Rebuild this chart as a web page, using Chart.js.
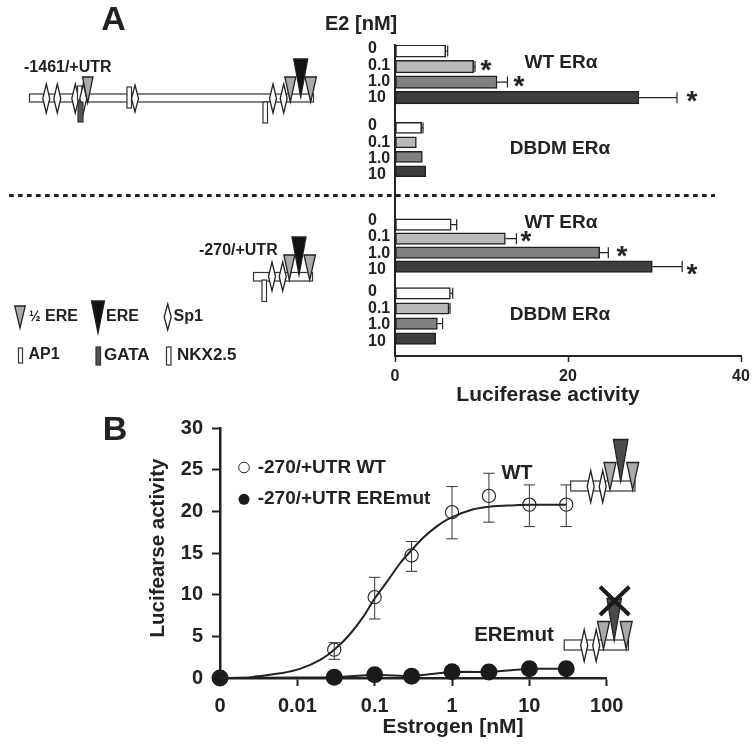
<!DOCTYPE html>
<html>
<head>
<meta charset="utf-8">
<title>Luciferase activity</title>
<script src="https://cdn.jsdelivr.net/npm/chart.js@4"></script>
<style>
    html, body { margin: 0; padding: 0; background: #fff; }
    #wrap { position: relative; width: 755px; height: 746px; overflow: hidden; }
    canvas { position: absolute; left: 0; top: 0; }
</style>
</head>
<body>
<div id="wrap">
    <canvas id="panelA" width="755" height="746"></canvas>
    <canvas id="panelB" width="755" height="746"></canvas>
</div>
<script>
// panel A: bars
const doseLabels = ['0', '0.1', '1.0', '10'];
const wtLong = [5.86, 9.09, 11.8, 28.2];
const wtLongErr = [0.23, 0.16, 1.2, 4.4];
const dbdmLong = [3.08, 2.47, 3.16, 3.55];
const dbdmLongErr = [0.16, 0, 0, 0];
const wtShort = [6.5, 12.76, 23.66, 29.75];
const wtShortErr = [0.63, 1.27, 1.0, 3.45];
const dbdmShort = [6.4, 6.24, 4.9, 4.7];
const dbdmShortErr = [0.27, 0.12, 0.6, 0];
const doseColors = ['#ffffff', '#b9b9b9', '#808080', '#3e3e3e'];

// panel B: dose response
const tickDoses = [0.001, 0.01, 0.1, 1, 10, 100];
const tickDoseLabels = ['0', '0.01', '0.1', '1', '10', '100'];
const doses = [0.001, 0.03, 0.1, 0.3, 1, 3, 10, 30];
const wtMeans = [0, 3.4, 9.7, 14.7, 19.9, 21.85, 20.8, 20.8];
const wtTop = [0, 4.24, 12.08, 16.37, 22.97, 24.57, 23.17, 23.17];
const wtBottom = [0, 2.24, 7.08, 12.8, 16.7, 18.7, 18.17, 18.17];
const mutMeans = [0, 0.1, 0.4, 0.2, 0.76, 0.72, 1.12, 1.12];
const fitDoses = [0.001, 0.002, 0.003, 0.006, 0.0108, 0.02, 0.03, 0.0457, 0.0714, 0.099, 0.143, 0.213, 0.302, 0.427, 0.635, 0.9, 1.89, 3.11, 6.55, 10, 30];
const fitValues = [0, 0.02, 0.2, 0.56, 1.1, 2.2, 3.4, 5.04, 7.36, 9.48, 11.5, 13.77, 15.37, 16.85, 18.2, 19.1, 20.25, 20.57, 20.73, 20.8, 20.8];

const ink = '#222222';
const fontFamily = '"Liberation Sans", Arial, sans-serif';
Chart.defaults.font.family = fontFamily;
Chart.defaults.color = ink;

// row layout of the y axis in panel A, in axis units (0-210)
const barStart = [4.05, 56, 121.3, 167.7];
const barStep = [10.5, 9.75, 9.45, 10.2];
const barThick = [12.5, 11, 11.5, 11.5];
const labelStart = [2.7, 54.5, 118.6, 166.8];
const labelStep = [11, 11.1, 11, 11.15];

function text(ctx, str, x, y, size, align) {
    ctx.font = 'bold ' + size + 'px ' + fontFamily;
    ctx.fillStyle = ink;
    ctx.textAlign = align || 'left';
    ctx.textBaseline = 'middle';
    ctx.fillText(str, x, y);
}

function star(ctx, x, y) {
    ctx.font = 'bold 28px ' + fontFamily;
    ctx.fillStyle = ink;
    ctx.textAlign = 'center';
    ctx.textBaseline = 'alphabetic';
    ctx.fillText('*', x, y + 12);
}

function box(ctx, x1, y1, x2, y2, fill) {
    ctx.fillStyle = fill;
    ctx.strokeStyle = '#333';
    ctx.lineWidth = 1.2;
    ctx.fillRect(x1, y1, x2 - x1, y2 - y1);
    ctx.strokeRect(x1, y1, x2 - x1, y2 - y1);
}

function diamond(ctx, cx, y1, y2, w) {
    let half = (w || 7) / 2;
    ctx.beginPath();
    ctx.moveTo(cx, y1);
    ctx.lineTo(cx + half, (y1 + y2) / 2);
    ctx.lineTo(cx, y2);
    ctx.lineTo(cx - half, (y1 + y2) / 2);
    ctx.closePath();
    ctx.fillStyle = '#fff';
    ctx.strokeStyle = '#222';
    ctx.lineWidth = 1.3;
    ctx.fill();
    ctx.stroke();
}

function tri(ctx, cx, top, tip, w, fill) {
    ctx.beginPath();
    ctx.moveTo(cx - w / 2, top);
    ctx.lineTo(cx + w / 2, top);
    ctx.lineTo(cx, tip);
    ctx.closePath();
    ctx.fillStyle = fill;
    ctx.strokeStyle = '#222';
    ctx.lineWidth = 1.3;
    ctx.fill();
    ctx.stroke();
}

function drawDiagramsA(ctx) {
    // long promoter
    box(ctx, 29.5, 94, 313.5, 102, '#fff');
    [46.3, 57.3, 75.3].forEach(x => diamond(ctx, x, 84, 113));
    box(ctx, 77.5, 86, 82, 100, '#fff');
    diamond(ctx, 83.3, 84, 113);
    box(ctx, 78, 102, 83, 122, '#555');
    tri(ctx, 87.7, 77, 103, 10.5, '#aaa');
    box(ctx, 127, 87, 131.5, 108, '#fff');
    diamond(ctx, 135, 85, 112);
    box(ctx, 263, 102, 267.5, 123, '#fff');
    diamond(ctx, 273, 84, 113);
    diamond(ctx, 283.7, 84, 113);
    tri(ctx, 290.3, 77, 102, 11, '#aaa');
    tri(ctx, 310.7, 77, 102, 11.5, '#aaa');
    tri(ctx, 300.7, 59, 97, 14, '#111');

    // short promoter
    box(ctx, 253.5, 272.5, 312.5, 281, '#fff');
    box(ctx, 262, 280, 266.5, 301.5, '#fff');
    diamond(ctx, 272, 262, 291);
    diamond(ctx, 282.7, 262, 291);
    tri(ctx, 289.3, 255, 280, 11, '#aaa');
    tri(ctx, 309.7, 255, 280, 11.5, '#aaa');
    tri(ctx, 299, 237, 275, 14, '#111');

    // key
    tri(ctx, 20, 306, 328, 10.5, '#aaa');
    tri(ctx, 98, 301, 333, 13, '#111');
    diamond(ctx, 167.7, 304, 330);
    box(ctx, 18.5, 348, 22.5, 363, '#fff');
    box(ctx, 96, 347, 100.5, 365, '#555');
    box(ctx, 166.5, 347, 171, 365, '#fff');
}

function errorsA(chart) {
    let ctx = chart.ctx;
    let errs = [wtLongErr, dbdmLongErr, wtShortErr, dbdmShortErr];
    ctx.save();
    ctx.strokeStyle = ink;
    ctx.lineWidth = 1.2;
    chart.data.datasets.forEach(function (ds, d) {
        chart.getDatasetMeta(d).data.forEach(function (bar, i) {
            if (!errs[d][i]) return;
            let x1 = bar.x;
            let x2 = chart.scales.x.getPixelForValue(ds.data[i].x + errs[d][i]);
            ctx.beginPath();
            ctx.moveTo(x1, bar.y);
            ctx.lineTo(x2, bar.y);
            ctx.moveTo(x2, bar.y - 5.5);
            ctx.lineTo(x2, bar.y + 5.5);
            ctx.stroke();
        });
    });
    ctx.restore();
}

const panelAExtras = {
    id: 'panelAExtras',
    afterDraw(chart) {
        let ctx = chart.ctx;
        ctx.save();
        errorsA(chart);

        text(ctx, 'A', 113.5, 21, 34, 'center');
        text(ctx, 'E2 [nM]', 325, 24, 20);
        text(ctx, '-1461/+UTR', 24, 68, 16);
        text(ctx, '-270/+UTR', 199, 251, 16);
        text(ctx, 'WT ER\u03b1', 561, 63, 19, 'center');
        text(ctx, 'DBDM ER\u03b1', 560, 149, 19, 'center');
        text(ctx, 'WT ER\u03b1', 561, 223, 19, 'center');
        text(ctx, 'DBDM ER\u03b1', 560, 315, 19, 'center');
        text(ctx, 'Luciferase activity', 548, 395, 21, 'center');

        text(ctx, '\u00bd', 29, 317, 14);
        text(ctx, 'ERE', 45, 317, 16);
        text(ctx, 'ERE', 106, 317, 16);
        text(ctx, 'Sp1', 173.5, 317, 16);
        text(ctx, 'AP1', 28.5, 355, 16);
        text(ctx, 'GATA', 104, 355, 17);
        text(ctx, 'NKX2.5', 177, 355, 17);

        star(ctx, 486, 67);
        star(ctx, 519, 83);
        star(ctx, 692, 98);
        star(ctx, 526, 238);
        star(ctx, 622, 253);
        star(ctx, 692, 271);

        // divider between the two constructs
        ctx.strokeStyle = ink;
        ctx.lineWidth = 3;
        ctx.setLineDash([4.7, 4.3]);
        ctx.beginPath();
        ctx.moveTo(9, 195.5);
        ctx.lineTo(715, 195.5);
        ctx.stroke();
        ctx.setLineDash([]);

        drawDiagramsA(ctx);
        ctx.restore();
    }
};

function barDataset(values, g) {
    return {
        data: values.map((v, i) => ({ x: v, y: barStart[g] + i * barStep[g] })),
        backgroundColor: doseColors,
        borderColor: ink,
        borderWidth: 1.5,
        borderSkipped: false,
        barThickness: barThick[g],
        grouped: false
    };
}

let labelSlots = [];
labelStart.forEach(function (s, g) {
    doseLabels.forEach((d, i) => labelSlots.push(s + i * labelStep[g]));
});
let labelTexts = doseLabels.concat(doseLabels, doseLabels, doseLabels);

new Chart(document.getElementById('panelA'), {
    type: 'bar',
    data: {
        datasets: [barDataset(wtLong, 0), barDataset(dbdmLong, 1), barDataset(wtShort, 2), barDataset(dbdmShort, 3)]
    },
    options: {
        responsive: false,
        animation: false,
        indexAxis: 'y',
        layout: { padding: { left: 368, right: 14, top: 45, bottom: 360 } },
        plugins: { legend: { display: false }, tooltip: { enabled: false } },
        scales: {
            x: {
                type: 'linear',
                min: 0,
                max: 40,
                afterBuildTicks(scale) { scale.ticks = [0, 20, 40].map(v => ({ value: v })); },
                afterFit(scale) { scale.height = 30; },
                border: { color: ink, width: 2 },
                grid: { drawOnChartArea: false, tickLength: 6, tickColor: ink, tickWidth: 1.5 },
                ticks: { font: { size: 16, weight: 'bold' }, padding: 5, maxRotation: 0 }
            },
            y: {
                type: 'linear',
                reverse: true,
                min: 0,
                max: 210,
                offset: false,
                afterBuildTicks(scale) { scale.ticks = labelSlots.map(v => ({ value: v })); },
                afterFit(scale) { scale.width = 27; },
                border: { color: ink, width: 2 },
                grid: { display: false },
                ticks: {
                    font: { size: 16, weight: 'bold' },
                    autoSkip: false,
                    crossAlign: 'far',
                    callback: (v, i) => labelTexts[i]
                }
            }
        }
    },
    plugins: [panelAExtras]
});

function drawConstructB(ctx, dx, dy) {
    box(ctx, 570.7 + dx, 481 + dy, 635 + dx, 491 + dy, '#fff');
    diamond(ctx, 590.7 + dx, 470.5 + dy, 502.5 + dy);
    diamond(ctx, 602.7 + dx, 470.5 + dy, 502.5 + dy);
    tri(ctx, 610 + dx, 462.5 + dy, 490 + dy, 12, '#aaa');
    tri(ctx, 632.7 + dx, 462.5 + dy, 490 + dy, 12, '#aaa');
    tri(ctx, 620.7 + dx, 439.5 + dy, 481.5 + dy, 14.5, '#4a4a4a');
}

const panelBExtras = {
    id: 'panelBExtras',
    afterDraw(chart) {
        let ctx = chart.ctx;
        let xs = chart.scales.x;
        let ys = chart.scales.y;
        ctx.save();

        // WT error bars
        ctx.strokeStyle = '#333';
        ctx.lineWidth = 1;
        doses.forEach(function (d, i) {
            if (wtTop[i] === wtBottom[i]) return;
            let x = xs.getPixelForValue(d);
            let t = ys.getPixelForValue(wtTop[i]);
            let b = ys.getPixelForValue(wtBottom[i]);
            ctx.beginPath();
            ctx.moveTo(x, t);
            ctx.lineTo(x, b);
            ctx.moveTo(x - 5.7, t);
            ctx.lineTo(x + 5.7, t);
            ctx.moveTo(x - 5.7, b);
            ctx.lineTo(x + 5.7, b);
            ctx.stroke();
        });

        text(ctx, 'B', 115, 431, 34, 'center');
        text(ctx, 'Estrogen [nM]', 453, 727, 21, 'center');
        text(ctx, '-270/+UTR WT', 257.7, 467.5, 19);
        text(ctx, '-270/+UTR EREmut', 257.7, 499, 19);
        text(ctx, 'WT', 517, 473, 20, 'center');
        text(ctx, 'EREmut', 514, 635, 20.5, 'center');

        ctx.save();
        ctx.translate(158, 548);
        ctx.rotate(-Math.PI / 2);
        text(ctx, 'Lucifearse activity', 0, 0, 20.5, 'center');
        ctx.restore();

        // legend markers
        ctx.beginPath();
        ctx.arc(244, 467.5, 5.3, 0, Math.PI * 2);
        ctx.fillStyle = '#fff';
        ctx.fill();
        ctx.strokeStyle = ink;
        ctx.lineWidth = 1;
        ctx.stroke();
        ctx.beginPath();
        ctx.arc(244, 499.3, 5.5, 0, Math.PI * 2);
        ctx.fillStyle = '#1a1a1a';
        ctx.fill();

        drawConstructB(ctx, 0, 0);
        drawConstructB(ctx, -6.5, 159);

        // crossed out ERE
        ctx.strokeStyle = '#1a1a1a';
        ctx.lineWidth = 4;
        ctx.beginPath();
        ctx.moveTo(600, 586.7);
        ctx.lineTo(629.3, 615);
        ctx.moveTo(629.3, 586.7);
        ctx.lineTo(600, 615);
        ctx.stroke();
        ctx.restore();
    }
};

new Chart(document.getElementById('panelB'), {
    type: 'scatter',
    data: {
        datasets: [{
            data: fitDoses.map((d, i) => ({ x: d, y: fitValues[i] })),
            showLine: true,
            cubicInterpolationMode: 'monotone',
            borderColor: ink,
            borderWidth: 2,
            pointRadius: 0,
            clip: false
        }, {
            data: doses.map((d, i) => ({ x: d, y: wtMeans[i] })),
            showLine: false,
            pointRadius: 6.6,
            pointBorderWidth: 1.1,
            pointBorderColor: ink,
            pointBackgroundColor: 'rgba(255,255,255,0)',
            clip: false
        }, {
            data: doses.map((d, i) => ({ x: d, y: mutMeans[i] })),
            showLine: true,
            tension: 0,
            borderColor: ink,
            borderWidth: 2,
            pointRadius: 8.5,
            pointBorderWidth: 0,
            pointBackgroundColor: '#1a1a1a',
            clip: false
        }]
    },
    options: {
        responsive: false,
        animation: false,
        layout: { padding: { left: 177.5, right: 148.3, top: 428, bottom: 30 } },
        plugins: { legend: { display: false }, tooltip: { enabled: false } },
        scales: {
            x: {
                type: 'logarithmic',
                min: 0.001,
                max: 100,
                afterBuildTicks(scale) { scale.ticks = tickDoses.map(v => ({ value: v })); },
                afterFit(scale) { scale.height = 38; },
                border: { color: ink, width: 2.5 },
                grid: { drawOnChartArea: false, tickLength: 8, tickColor: ink, tickWidth: 2 },
                ticks: {
                    font: { size: 20, weight: 'bold' },
                    padding: 8,
                    maxRotation: 0,
                    autoSkip: false,
                    callback: (v, i) => tickDoseLabels[i]
                }
            },
            y: {
                type: 'linear',
                min: 0,
                max: 30,
                afterFit(scale) { scale.width = 42.5; },
                border: { color: ink, width: 2.5 },
                grid: { drawOnChartArea: false, tickLength: 8, tickColor: ink, tickWidth: 2 },
                ticks: { font: { size: 20, weight: 'bold' }, padding: 9, stepSize: 5 }
            }
        }
    },
    plugins: [panelBExtras]
});
</script>
</body>
</html>
